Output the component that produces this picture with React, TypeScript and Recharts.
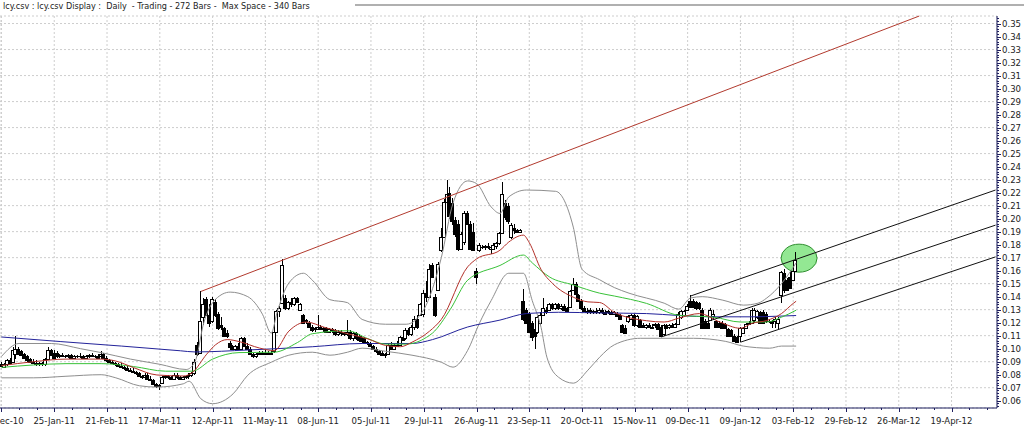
import React from 'react';
import {
  ComposedChart,
  Bar,
  Line,
  XAxis,
  YAxis,
  CartesianGrid,
  ReferenceLine,
  ReferenceDot,
} from 'recharts';

// ---------------- data ----------------
const headerText = 'lcy.csv : lcy.csv Display :  Daily  - Trading - 272 Bars -  Max Space - 340 Bars';

const dateLabels = [
  '29-Dec-10', '25-Jan-11', '21-Feb-11', '17-Mar-11', '12-Apr-11', '11-May-11', '08-Jun-11',
  '05-Jul-11', '29-Jul-11', '26-Aug-11', '23-Sep-11', '20-Oct-11', '15-Nov-11', '09-Dec-11',
  '09-Jan-12', '03-Feb-12', '29-Feb-12', '26-Mar-12', '19-Apr-12',
];
const LABEL_EVERY = 18;
const MINOR_EVERY = 6;
const SLOTS = 340;

const priceTicks = [
  0.06, 0.07, 0.08, 0.09, 0.1, 0.11, 0.12, 0.13, 0.14, 0.15, 0.16, 0.17, 0.18, 0.19, 0.2,
  0.21, 0.22, 0.23, 0.24, 0.25, 0.26, 0.27, 0.28, 0.29, 0.3, 0.31, 0.32, 0.33, 0.34, 0.35,
];
const priceDomain: [number, number] = [0.0544, 0.3558];

const opens = [
  .088, .086, .088, .091, .090, .096, .100, .098, .096, .094, .092, .090, .089, .088, .089, .088, .092, .099, .097, .097,
  .094, .095, .094, .094, .095, .093, .094, .094, .094, .093, .094, .095, .094, .094, .094, .096, .093, .091, .090, .089,
  .088, .087, .086, .085, .084, .083, .082, .081, .079, .078, .080, .077, .076, .073, .071, .074, .078, .079, .078, .077,
  .080, .078, .077, .078, .079, .080, .081, .103, .097, .124, .138, .126, .121, .136, .127, .118, .116, .112, .104, .101,
  .100, .102, .100, .108, .102, .100, .096, .094, .096, .097, .096, .097, .096, .098, .113, .129, .135, .139, .131, .136,
  .134, .139, .130, .126, .121, .120, .117, .115, .115, .117, .115, .116, .113, .115, .114, .111, .113, .112, .111, .113,
  .108, .112, .110, .108, .108, .105, .104, .102, .100, .098, .097, .095, .096, .103, .100, .103, .103, .109, .108, .114,
  .111, .117, .123, .126, .127, .143, .140, .164, .140, .145, .176, .186, .213, .220, .212, .199, .196, .177, .182, .204,
  .196, .190, .160, .176, .178, .179, .178, .177, .177, .179, .181, .189, .212, .210, .186, .193, .191, .190, .137, .130,
  .127, .120, .115, .113, .120, .126, .130, .130, .134, .131, .134, .131, .133, .131, .132, .145, .150, .141, .137, .131,
  .129, .130, .129, .129, .128, .130, .128, .129, .128, .127, .127, .126, .118, .116, .121, .123, .126, .118, .122, .118,
  .117, .118, .117, .118, .119, .117, .111, .118, .117, .118, .117, .119, .124, .126, .130, .137, .137, .136, .135, .130,
  .121, .120, .122, .125, .121, .120, .120, .119, .115, .114, .110, .109, .110, .112, .116, .119, .120, .122, .124, .128,
  .128, .127, .121, .121, .121, .120, .141, .158, .153, .155, .153, .160,
];
const highs = [
  .090, .089, .092, .093, .101, .110, .101, .099, .097, .095, .093, .092, .091, .090, .090, .093, .101, .100, .099, .098,
  .096, .097, .095, .096, .096, .095, .095, .097, .095, .095, .096, .097, .095, .096, .098, .097, .094, .092, .091, .090,
  .089, .089, .087, .087, .085, .085, .083, .082, .080, .081, .081, .079, .077, .074, .073, .079, .080, .080, .079, .081,
  .081, .079, .079, .080, .081, .082, .092, .105, .1445, .139, .140, .134, .140, .138, .128, .124, .117, .114, .106, .103,
  .103, .104, .109, .109, .104, .101, .097, .097, .098, .098, .099, .098, .098, .114, .130, .133, .169, .141, .137, .139,
  .140, .140, .135, .127, .123, .121, .118, .117, .126, .118, .117, .117, .116, .116, .115, .114, .114, .113, .122, .114,
  .113, .113, .111, .110, .109, .106, .105, .103, .101, .099, .098, .097, .104, .105, .104, .106, .110, .112, .116, .116,
  .118, .125, .126, .135, .145, .152, .165, .166, .142, .167, .193, .215, .230, .224, .216, .201, .199, .190, .206, .206,
  .198, .197, .162, .181, .180, .180, .181, .179, .181, .182, .190, .228, .214, .212, .197, .196, .192, .192, .146, .131,
  .128, .121, .116, .125, .128, .139, .132, .135, .135, .135, .135, .134, .134, .132, .145, .154, .151, .142, .138, .133,
  .131, .131, .130, .131, .131, .131, .130, .130, .129, .129, .128, .127, .119, .118, .126, .127, .127, .126, .123, .120,
  .119, .120, .119, .120, .120, .118, .119, .119, .119, .120, .120, .128, .130, .130, .134, .141, .138, .137, .136, .131,
  .123, .121, .131, .130, .122, .121, .121, .120, .116, .115, .111, .110, .117, .117, .120, .121, .131, .131, .130, .129,
  .130, .128, .123, .122, .124, .124, .160, .161, .154, .160, .162, .174,
];
const lows = [
  .086, .085, .087, .088, .089, .092, .095, .094, .092, .090, .089, .088, .087, .087, .087, .087, .091, .094, .092, .093,
  .093, .094, .093, .093, .093, .092, .093, .093, .092, .092, .093, .094, .093, .092, .093, .093, .090, .089, .088, .087,
  .086, .085, .084, .083, .082, .081, .080, .078, .077, .077, .076, .075, .072, .070, .068, .073, .077, .077, .076, .076,
  .077, .076, .076, .077, .077, .078, .080, .094, .096, .118, .125, .117, .120, .124, .114, .114, .109, .108, .100, .099,
  .098, .099, .099, .101, .099, .095, .093, .093, .095, .095, .095, .096, .095, .097, .112, .124, .134, .130, .130, .132,
  .133, .135, .129, .119, .119, .116, .113, .113, .114, .114, .113, .112, .112, .112, .110, .110, .110, .110, .110, .107,
  .106, .107, .106, .105, .104, .103, .101, .099, .097, .095, .094, .093, .095, .099, .099, .101, .102, .106, .107, .110,
  .110, .114, .115, .125, .124, .136, .139, .154, .124, .144, .174, .185, .210, .200, .195, .186, .175, .176, .180, .195,
  .176, .175, .150, .174, .177, .176, .177, .173, .176, .177, .180, .188, .199, .196, .184, .188, .189, .189, .121, .119,
  .112, .106, .100, .111, .118, .125, .127, .129, .130, .130, .130, .130, .129, .128, .131, .144, .141, .136, .130, .128,
  .127, .127, .127, .127, .127, .127, .126, .127, .126, .126, .124, .122, .112, .111, .120, .122, .117, .117, .116, .116,
  .115, .116, .115, .116, .114, .109, .110, .115, .115, .116, .116, .118, .123, .125, .129, .131, .131, .130, .130, .115,
  .115, .115, .121, .123, .116, .116, .115, .115, .109, .109, .105, .104, .105, .111, .115, .118, .119, .120, .123, .119,
  .119, .120, .120, .116, .116, .115, .135, .143, .144, .146, .152, .159,
];
const closes = [
  .087, .088, .091, .089, .099, .100, .096, .095, .093, .091, .090, .089, .088, .089, .088, .092, .099, .095, .093, .094,
  .095, .094, .094, .095, .093, .094, .094, .094, .093, .094, .095, .094, .094, .093, .096, .093, .091, .090, .089, .088,
  .087, .086, .085, .084, .083, .082, .081, .079, .078, .080, .077, .076, .073, .071, .072, .078, .079, .078, .077, .080,
  .078, .077, .078, .079, .080, .081, .090, .096, .121, .134, .126, .120, .138, .126, .116, .117, .110, .110, .101, .100,
  .102, .100, .108, .102, .100, .096, .094, .096, .097, .096, .097, .096, .097, .113, .129, .131, .164, .131, .136, .134,
  .139, .136, .134, .120, .122, .117, .114, .116, .117, .115, .116, .113, .115, .114, .111, .113, .112, .111, .113, .108,
  .112, .108, .107, .106, .105, .104, .102, .100, .098, .096, .095, .096, .103, .100, .103, .102, .109, .107, .114, .111,
  .117, .123, .117, .134, .143, .140, .161, .155, .126, .165, .186, .213, .219, .202, .198, .188, .177, .188, .204, .196,
  .177, .176, .155, .180, .178, .178, .179, .178, .180, .181, .189, .219, .201, .198, .195, .191, .190, .191, .123, .120,
  .113, .109, .110, .124, .126, .131, .128, .134, .131, .134, .131, .133, .130, .129, .144, .150, .142, .137, .131, .129,
  .128, .128, .128, .128, .130, .128, .127, .128, .127, .128, .125, .123, .113, .112, .125, .126, .118, .125, .117, .117,
  .118, .117, .116, .119, .115, .110, .118, .116, .118, .117, .119, .127, .129, .129, .133, .132, .132, .131, .131, .116,
  .116, .116, .130, .127, .117, .117, .116, .116, .110, .110, .106, .105, .116, .116, .119, .120, .130, .130, .129, .120,
  .120, .121, .121, .120, .123, .123, .159, .145, .145, .147, .160, .168,
];

// indicator readings: [bar index, value]
const maShort: [number, number][] = [
  [0, .087], [11, .090], [22, .092], [34, .092], [39, .0905], [45, .0855], [53, .0798], [62, .079], [65, .0815],
  [70, .0958], [73, .103], [77, .107], [81, .1055], [88, .1005], [93, .0985], [98, .1135], [104, .1205], [110, .1165],
  [118, .1115], [125, .1075], [131, .1025], [136, .1015], [140, .105], [146, .1135], [150, .1225], [159, .163],
  [162, .169], [170, .1757], [173, .182], [178, .1873], [180, .1815], [184, .161], [188, .150], [195, .1396],
  [200, .136], [204, .1355], [209, .128], [220, .1215], [226, .1205], [231, .1235], [238, .127], [245, .1205],
  [252, .1157], [256, .1195], [261, .1217], [266, .127], [270, .1348], [271, .1365],
];
const maMedium: [number, number][] = [
  [0, .0856], [11, .0875], [22, .0885], [34, .0885], [45, .0863], [56, .0827], [65, .0827], [72, .092], [81, .097],
  [93, .0973], [101, .1048], [106, .1115], [118, .1138], [125, .1077], [131, .1035], [138, .1035], [145, .1088],
  [147, .112], [153, .130], [159, .1527], [170, .164], [178, .172], [181, .166], [187, .155], [195, .149],
  [204, .1427], [209, .1405], [220, .1348], [231, .1257], [243, .1242], [252, .1205], [261, .1205], [266, .1242],
  [271, .1296],
];
const maLong: [number, number][] = [
  [0, .109], [20, .1055], [41, .102], [61, .0984], [66, .0975], [84, .099], [106, .1015], [123, .104], [140, .104],
  [147, .107], [159, .1167], [170, .122], [179, .127], [190, .128], [204, .1275], [220, .127], [231, .1255],
  [243, .1245], [256, .1245], [265, .125], [271, .1255],
];
const bandUpper: [number, number][] = [
  [0, .094], [6, .104], [17, .104], [27, .100], [34, .097], [44, .092], [54, .088], [63, .084], [66, .090],
  [69, .120], [73, .138], [78, .1435], [84, .140], [89, .1265], [92, .112], [94, .128], [98, .1505], [103, .158],
  [106, .1527], [112, .1377], [118, .1354], [123, .1225], [131, .1188], [138, .1188], [144, .130], [150, .170],
  [154, .212], [159, .229], [162, .227], [167, .209], [170, .204], [173, .2167], [179, .222], [189, .221],
  [195, .1935], [198, .161], [204, .153], [209, .147], [214, .1427], [226, .135], [231, .1304], [235, .139],
  [239, .140], [246, .1373], [253, .1335], [258, .135], [261, .139], [266, .150], [271, .166],
];
const bandLower: [number, number][] = [
  [0, .0776], [11, .0776], [22, .0788], [34, .080], [39, .0776], [47, .0715], [53, .0705], [62, .073], [64, .075],
  [68, .0615], [72, .0577], [79, .0653], [84, .0796], [92, .0896], [98, .095], [106, .0973], [112, .095],
  [118, .0973], [123, .1004], [131, .098], [140, .095], [150, .0896], [154, .0858], [159, .0988], [163, .1196],
  [167, .137], [173, .158], [178, .158], [181, .137], [184, .1165], [186, .0935], [190, .078], [195, .0735],
  [200, .0835], [204, .0935], [209, .103], [218, .108], [236, .108], [247, .1056], [253, .102], [262, .1004],
  [266, .102], [271, .102],
];

// drawn trend lines: [bar index, price]
const redTrend: [number, number][] = [[68, .1440], [313, .3558]];
const channelUpper: [number, number][] = [[235, .1405], [339, .2220]];
const channelMiddle: [number, number][] = [[225, .1090], [339, .1950]];
const channelLower: [number, number][] = [[252, .1050], [339, .1706]];
const highlight = { bar: 272, price: 0.1696 };

// ---------------- table for the library ----------------
type Row = { [k: string]: any };
const table: Row[] = Array.from({ length: SLOTS }, (_, i) => {
  const row: Row = { i };
  if (i < opens.length) {
    row.o = opens[i];
    row.h = highs[i];
    row.l = lows[i];
    row.c = closes[i];
    row.hl = [lows[i], highs[i]];
  }
  return row;
});
const attach = (pts: [number, number][], key: string) => {
  pts.forEach(([i, v]) => {
    table[i][key] = v;
  });
};
attach(maShort, 'maS');
attach(maMedium, 'maM');
attach(maLong, 'maL');
attach(bandUpper, 'bbU');
attach(bandLower, 'bbL');

const yTicksAll: number[] = [];
for (let n = 28; n <= 177; n++) yTicksAll.push(Number((n * 0.002).toFixed(3)));

// ---------------- styling ----------------
const FONT = "'Liberation Sans Narrow','Arial Narrow','DejaVu Sans Condensed','Liberation Sans',Arial,sans-serif";
const AXIS = '#1f2060';
const TEXT = '#222';

const Candle = (props: any) => {
  const { x, y, width, height, payload } = props;
  if (!payload || payload.o == null || height == null || isNaN(y)) return null;
  const { o, c, h, l } = payload;
  const k = h - l > 0 ? height / (h - l) : 0;
  const cx = Math.floor(x + width / 2);
  const yO = y + (h - o) * k;
  const yC = y + (h - c) * k;
  const top = Math.round(Math.min(yO, yC));
  const bot = Math.round(Math.max(yO, yC));
  const up = c >= o;
  return (
    <g shapeRendering="crispEdges">
      <line x1={cx + 0.5} x2={cx + 0.5} y1={Math.round(y)} y2={Math.round(y + height)} stroke="#000" strokeWidth={1} />
      {bot - top >= 1 ? (
        <rect x={cx - 1.5} y={top + 0.5} width={3} height={bot - top} fill={up ? '#fff' : '#000'} stroke="#000" strokeWidth={1} />
      ) : (
        <line x1={cx - 2} x2={cx + 2} y1={top + 0.5} y2={top + 0.5} stroke="#000" strokeWidth={1} />
      )}
    </g>
  );
};

const XTick = (props: any) => {
  const { x, y, payload } = props;
  const v = payload.value as number;
  const major = v % LABEL_EVERY === 0;
  const xx = Math.round(x) + 0.5;
  return (
    <g>
      <line x1={xx} x2={xx} y1={y} y2={y + (major ? 4 : 2)} stroke={AXIS} strokeWidth={1} />
      {major && (
        <text x={x} y={y + 16} textAnchor="middle" fontSize={9.5} fontFamily={FONT} fill={TEXT}>
          {dateLabels[v / LABEL_EVERY]}
        </text>
      )}
    </g>
  );
};

const YTick = (props: any) => {
  const { x, y, payload } = props;
  const v = payload.value as number;
  const major = Math.abs(v * 100 - Math.round(v * 100)) < 1e-6;
  const yy = Math.round(y) + 0.5;
  return (
    <g>
      <line x1={x} x2={x + (major ? 4 : 2)} y1={yy} y2={yy} stroke={AXIS} strokeWidth={1} />
      {major && (
        <text x={x + 5} y={y + 3.5} textAnchor="start" fontSize={9.5} fontFamily={FONT} fill={TEXT}>
          {v.toFixed(2)}
        </text>
      )}
    </g>
  );
};

const seg = (pts: [number, number][]) => pts.map(([x, y]) => ({ x, y }));

const Ellipse = (props: any) => {
  const { cx, cy } = props;
  if (cx == null || cy == null) return null;
  return <ellipse cx={cx} cy={cy} rx={18} ry={14} fill="#93e893" stroke="#2f8f2f" strokeWidth={1} />;
};

export default function App() {
  return (
    <div style={{ position: 'absolute', left: 0, top: 0, width: 1024, height: 426, background: '#fff', overflow: 'hidden' }}>
      <ComposedChart
        width={1024}
        height={426}
        data={table}
        margin={{ top: 16, right: 0, left: 0, bottom: 0 }}
      >
        <XAxis xAxisId="g" dataKey="i" type="category" hide interval={LABEL_EVERY - 1} />
        <YAxis yAxisId="g" hide orientation="right" type="number" domain={priceDomain} ticks={priceTicks} allowDataOverflow />
        <CartesianGrid xAxisId="g" yAxisId="g" stroke="#cdcdcd" strokeDasharray="2 2" />
        <XAxis
          dataKey="i"
          type="category"
          interval={MINOR_EVERY - 1}
          height={18}
          tickSize={0}
          tickMargin={0}
          tickLine={false}
          axisLine={{ stroke: AXIS }}
          tick={<XTick />}
        />
        <YAxis
          orientation="right"
          type="number"
          width={27}
          domain={priceDomain}
          ticks={yTicksAll}
          interval={0}
          tickSize={0}
          tickMargin={0}
          tickLine={false}
          axisLine={{ stroke: AXIS }}
          tick={<YTick />}
          allowDataOverflow
        />
        <ReferenceDot
          x={highlight.bar}
          y={highlight.price}
          r={14}
          shape={<Ellipse />}
          ifOverflow="visible"
          zIndex={250}
        />
        <Bar dataKey="hl" barSize={3} shape={<Candle />} isAnimationActive={false} zIndex={300} />
        <Line dataKey="bbU" type="monotone" stroke="#8e8e8e" strokeWidth={1} dot={false} activeDot={false} connectNulls isAnimationActive={false} />
        <Line dataKey="bbL" type="monotone" stroke="#8e8e8e" strokeWidth={1} dot={false} activeDot={false} connectNulls isAnimationActive={false} />
        <Line dataKey="maL" type="monotone" stroke="#23239a" strokeWidth={1} dot={false} activeDot={false} connectNulls isAnimationActive={false} />
        <Line dataKey="maM" type="monotone" stroke="#39c239" strokeWidth={1} dot={false} activeDot={false} connectNulls isAnimationActive={false} />
        <Line dataKey="maS" type="monotone" stroke="#b3312a" strokeWidth={1} dot={false} activeDot={false} connectNulls isAnimationActive={false} />
        <ReferenceLine segment={seg(redTrend)} stroke="#b23a2e" strokeWidth={1} ifOverflow="visible" zIndex={450} />
        <ReferenceLine segment={seg(channelUpper)} stroke="#111" strokeWidth={1} ifOverflow="visible" zIndex={450} />
        <ReferenceLine segment={seg(channelMiddle)} stroke="#111" strokeWidth={1} ifOverflow="visible" zIndex={450} />
        <ReferenceLine segment={seg(channelLower)} stroke="#111" strokeWidth={1} ifOverflow="visible" zIndex={450} />
      </ComposedChart>
      <div style={{ position: 'absolute', left: 355, right: 0, top: 4, height: 0, borderTop: '2px solid #b0b0b0' }} />
      <div
        style={{
          position: 'absolute',
          left: 3,
          top: 1,
          fontFamily: FONT,
          fontSize: 9,
          lineHeight: '11px',
          color: TEXT,
          whiteSpace: 'pre',
        }}
      >
        {headerText}
      </div>
    </div>
  );
}
